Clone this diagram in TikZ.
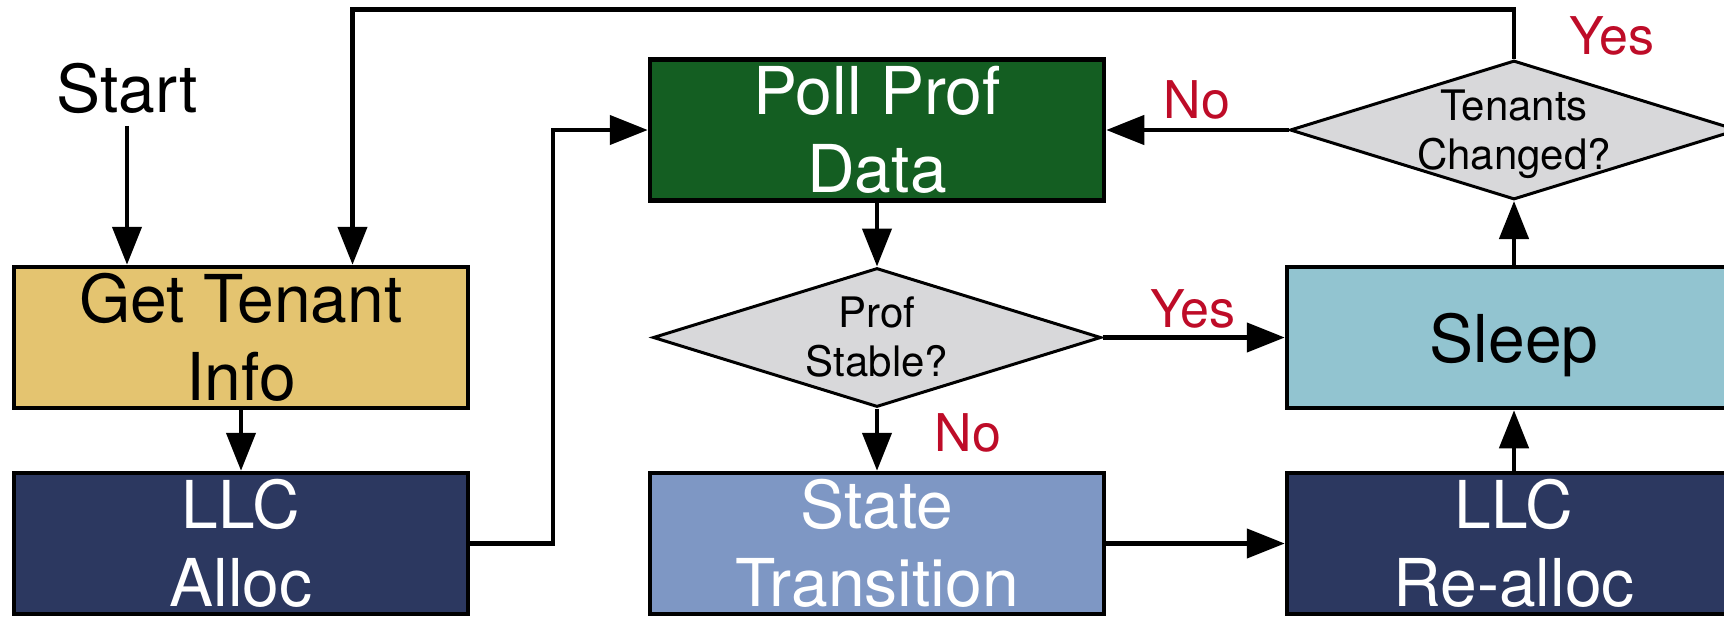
\documentclass[tikz,border=0pt]{standalone}
\usepackage{fontspec}
\setmainfont{TeX Gyre Heros}
\usetikzlibrary{arrows.meta,shapes.geometric}

\definecolor{tenantgold}{RGB}{228,196,112}
\definecolor{llcnavy}{RGB}{44,56,96}
\definecolor{pollgreen}{RGB}{20,94,34}
\definecolor{decgray}{RGB}{216,216,218}
\definecolor{statblue}{RGB}{126,151,196}
\definecolor{sleepteal}{RGB}{146,196,208}
\definecolor{answerred}{RGB}{190,12,40}

\begin{document}
\begin{tikzpicture}[x=1pt,y=-1pt,
  stepbox/.style={draw=black, line width=4.5pt, rectangle,
    minimum width=454pt, minimum height=141pt, inner sep=0pt,
    align=center, font=\fontsize{66}{78}\selectfont},
  decision/.style={draw=black, line width=3pt, diamond, fill=decgray,
    minimum width=448pt, minimum height=139pt, inner sep=0pt},
  dtext/.style={align=center, font=\fontsize{42}{49}\selectfont,
    inner sep=0pt, text=black},
  answer/.style={text=answerred, font=\fontsize{52}{60}\selectfont,
    inner sep=0pt},
  flow/.style={line width=4.5pt, -{Triangle[width=29pt,length=38pt]}},
]
\clip (0,0) rectangle (1724,616);

% process boxes
\node[stepbox, fill=tenantgold, text=black] (gti) at (241,337.5) {Get Tenant\\Info};
\node[stepbox, fill=llcnavy, text=white] (llca) at (241,543.5) {LLC\\Alloc};
\node[stepbox, fill=pollgreen, text=white] (poll) at (877,130) {Poll Prof\\Data};
\node[stepbox, fill=statblue, text=white] (state) at (877,543.5) {State\\Transition};
\node[stepbox, fill=sleepteal, text=black, text depth=0pt] (sleep) at (1514,337.5) {Sleep};
\node[stepbox, fill=llcnavy, text=white] (realloc) at (1514,543.5) {LLC\\Re-alloc};

% decisions
\node[decision, label={[dtext]center:Prof\\Stable?}] (prof) at (877,337.5) {};
\node[decision, label={[dtext, yshift=-4pt]center:Tenants\\Changed?}] (tc) at (1514,130) {};

% start marker
\node[inner sep=0pt, font=\fontsize{66}{78}\selectfont] (start) at (127,88.5) {Start};

% branch labels
\node[answer] (yestop) at (1612,36) {Yes};
\node[answer] (yesmid) at (1193,309) {Yes};
\node[answer] (noup) at (1197,100) {No};
\node[answer] (nolow) at (968,433) {No};

% bend points
\coordinate (upturn) at (553,0);
\coordinate (loopcorner) at (352.5,9.5);

% connectors
\draw[flow, shorten <=12pt] (start.south) -- (start.south |- gti.north);
\draw[flow] (gti) -- (llca);
\draw[flow] (llca.east) -| (upturn |- poll.west) -- (poll.west);
\draw[flow] (poll) -- (prof);
\draw[flow] (prof) -- (state);
\draw[flow] (prof) -- (sleep);
\draw[flow] (state) -- (realloc);
\draw[flow] (realloc) -- (sleep);
\draw[flow] (sleep) -- (tc);
\draw[flow] (tc) -- (poll);
\draw[flow] (tc.north) |- (loopcorner) -- (loopcorner |- gti.north);
\end{tikzpicture}
\end{document}
